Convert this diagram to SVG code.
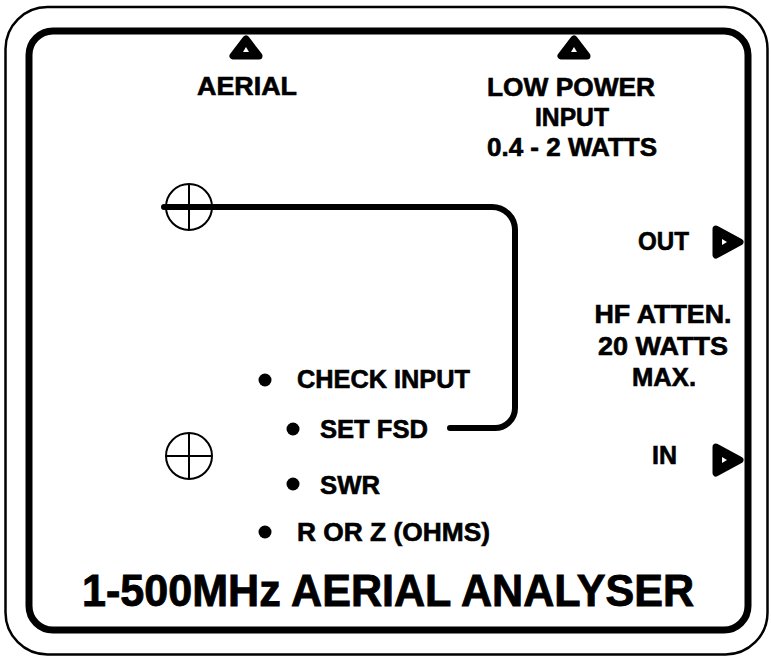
<svg xmlns="http://www.w3.org/2000/svg" width="771" height="658" viewBox="0 0 771 658">
<style>
.t{font-family:"Liberation Sans",Arial,sans-serif;font-weight:bold;fill:#000;stroke:#000;stroke-width:0.6;font-size:25px}
.title{font-size:45px;stroke-width:0.9}
.tri{fill:#000;stroke:#000;stroke-width:7;stroke-linejoin:round}
.hole{fill:#fff}
.xh{fill:none;stroke:#000;stroke-width:2}
.wire{fill:none;stroke:#000;stroke-width:6;stroke-linecap:round;stroke-linejoin:round}
</style>
<rect x="0" y="0" width="771" height="658" fill="#fff"/>
<g id="frame">
<rect x="5.5" y="7" width="762" height="647.5" rx="42" ry="42" fill="none" stroke="#000" stroke-width="2.5"/>
<rect x="29" y="31" width="719" height="599" rx="24" ry="24" fill="none" stroke="#000" stroke-width="7"/>
</g>
<g id="aerial">
<path class="tri" d="M246,39 L233,56 L259,56 Z"/>
<path class="hole" d="M246,47 L243,52 L249,52 Z"/>
<text class="t" x="247" y="95" text-anchor="middle" textLength="100" lengthAdjust="spacingAndGlyphs">AERIAL</text>
</g>
<g id="low-power-input">
<path class="tri" d="M574,39 L561,56 L587,56 Z"/>
<path class="hole" d="M574,47 L571,52 L577,52 Z"/>
<text class="t" x="571" y="96" text-anchor="middle" textLength="168" lengthAdjust="spacingAndGlyphs">LOW POWER</text>
<text class="t" x="572" y="126" text-anchor="middle" textLength="74" lengthAdjust="spacingAndGlyphs">INPUT</text>
<text class="t" x="572" y="156" text-anchor="middle" textLength="170" lengthAdjust="spacingAndGlyphs">0.4 - 2 WATTS</text>
</g>
<g id="out">
<text class="t" x="638" y="250" textLength="51" lengthAdjust="spacingAndGlyphs">OUT</text>
<path class="tri" d="M716,229 L740,242 L716,255 Z"/>
<path class="hole" d="M722,239 L727,242 L722,245 Z"/>
</g>
<g id="hf-atten">
<text class="t" x="663" y="323" text-anchor="middle" textLength="137" lengthAdjust="spacingAndGlyphs">HF ATTEN.</text>
<text class="t" x="663" y="355" text-anchor="middle" textLength="130" lengthAdjust="spacingAndGlyphs">20 WATTS</text>
<text class="t" x="664" y="386" text-anchor="middle" textLength="64" lengthAdjust="spacingAndGlyphs">MAX.</text>
</g>
<g id="in">
<text class="t" x="652" y="464" textLength="25" lengthAdjust="spacingAndGlyphs">IN</text>
<path class="tri" d="M716,447 L740,460 L716,473 Z"/>
<path class="hole" d="M722,457 L727,460 L722,463 Z"/>
</g>
<g id="crosshair-top">
<circle class="xh" cx="189" cy="207" r="23"/>
<line class="xh" x1="189" y1="184" x2="189" y2="230"/>
<line class="xh" x1="166" y1="207" x2="212" y2="207"/>
</g>
<g id="crosshair-bottom">
<circle class="xh" cx="189" cy="456" r="23"/>
<line class="xh" x1="189" y1="433" x2="189" y2="479"/>
<line class="xh" x1="166" y1="456" x2="212" y2="456"/>
</g>
<g id="check-input">
<circle cx="265" cy="380" r="6.5"/>
<text class="t" x="297" y="388" textLength="173" lengthAdjust="spacingAndGlyphs">CHECK INPUT</text>
</g>
<g id="set-fsd">
<circle cx="293" cy="429" r="6.5"/>
<text class="t" x="320" y="438" textLength="108" lengthAdjust="spacingAndGlyphs">SET FSD</text>
</g>
<g id="swr">
<circle cx="293" cy="484" r="6.5"/>
<text class="t" x="320" y="494" textLength="60" lengthAdjust="spacingAndGlyphs">SWR</text>
</g>
<g id="r-or-z">
<circle cx="265" cy="532" r="6.5"/>
<text class="t" x="297" y="541" textLength="193" lengthAdjust="spacingAndGlyphs">R OR Z (OHMS)</text>
</g>
<g id="title">
<text class="t title" x="82" y="606" textLength="612" lengthAdjust="spacingAndGlyphs">1-500MHz AERIAL ANALYSER</text>
</g>
<g id="connectors">
<path class="wire" d="M164,207 H492 A23,23 0 0 1 515,230 V408 A20,20 0 0 1 495,428 H450"/>
</g>
</svg>
